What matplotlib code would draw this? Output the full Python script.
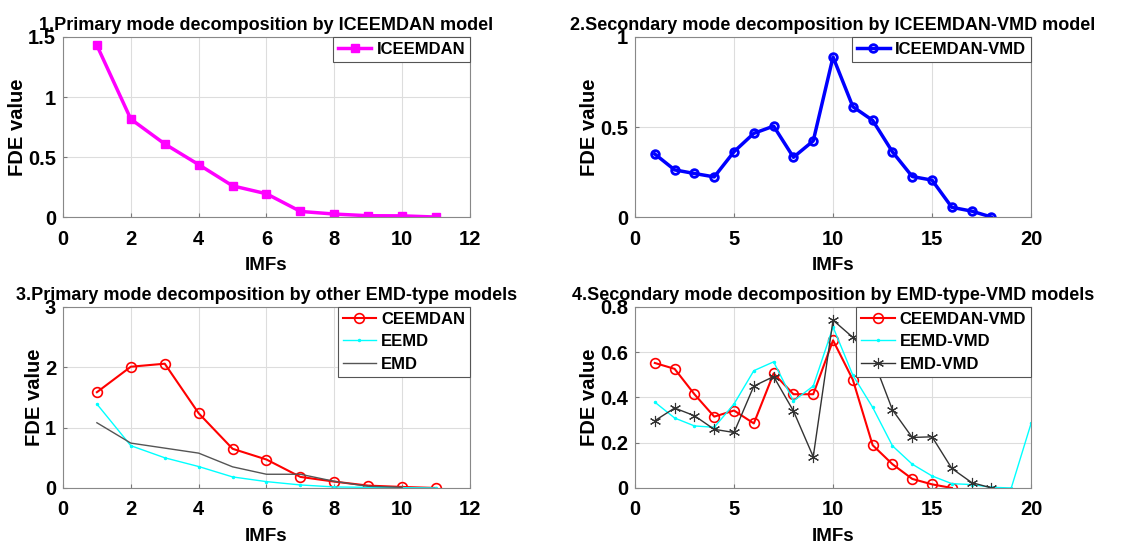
import numpy as np
import matplotlib
matplotlib.use('Agg')
import matplotlib.pyplot as plt
from matplotlib.ticker import FormatStrFormatter

plt.rcParams['font.family'] = ['Liberation Sans', 'DejaVu Sans']
plt.rcParams['font.weight'] = 'bold'

# 1. ICEEMDAN
imf1 = np.arange(1, 12)
iceemdan = [1.43, 0.816, 0.609, 0.437, 0.26, 0.194, 0.047, 0.025, 0.011, 0.01, 0.0]

# 2. ICEEMDAN-VMD
imf2 = np.arange(1, 19)
iceemdan_vmd = [0.35, 0.262, 0.242, 0.223, 0.363, 0.465, 0.505, 0.332, 0.423,
                0.889, 0.613, 0.537, 0.362, 0.225, 0.205, 0.054, 0.033, 0.0]

# 3. other EMD-type models
imf3 = np.arange(1, 12)
ceemdan = [1.586, 2.008, 2.058, 1.237, 0.649, 0.471, 0.183, 0.105, 0.039, 0.017, 0.0]
eemd = [1.39, 0.70, 0.50, 0.355, 0.183, 0.105, 0.05, 0.017, 0.01, 0.005, 0.0]
imf3_emd = np.arange(1, 11)
emd = [1.08, 0.743, 0.66, 0.577, 0.35, 0.227, 0.227, 0.11, 0.028, 0.01]

# 4. EMD-type-VMD models
imf4_c = np.arange(1, 17)
ceemdan_vmd = [0.552, 0.526, 0.414, 0.315, 0.342, 0.285, 0.506, 0.414, 0.414,
               0.652, 0.478, 0.189, 0.105, 0.04, 0.016, 0.0]
imf4_ee = np.arange(1, 21)
eemd_vmd = [0.379, 0.309, 0.274, 0.268, 0.371, 0.518, 0.557, 0.384, 0.45, 0.711,
            0.498, 0.356, 0.186, 0.105, 0.053, 0.019, 0.015, 0.003, 0.0, 0.285]
imf4_e = np.arange(1, 19)
emd_vmd = [0.297, 0.353, 0.319, 0.259, 0.245, 0.45, 0.492, 0.34, 0.138, 0.741,
           0.665, 0.574, 0.345, 0.223, 0.226, 0.086, 0.024, 0.0]

titles = ['1.Primary mode decomposition by ICEEMDAN model',
          '2.Secondary mode decomposition by ICEEMDAN-VMD model',
          '3.Primary mode decomposition by other EMD-type models',
          '4.Secondary mode decomposition by EMD-type-VMD models']

fig = plt.figure(figsize=(11.45, 5.44), dpi=100)
pos = [[0.055, 0.601, 0.3555, 0.331],
       [0.5546, 0.601, 0.3459, 0.331],
       [0.055, 0.103, 0.3555, 0.333],
       [0.5546, 0.103, 0.3459, 0.333]]
axs = [fig.add_axes(p) for p in pos]

ax = axs[0]
ax.plot(imf1, iceemdan, color='magenta', lw=2.5, marker='s', ms=5.5, label='ICEEMDAN')
ax.set_xlim(0, 12); ax.set_ylim(0, 1.5)
ax.set_xticks(range(0, 13, 2)); ax.set_yticks([0, 0.5, 1, 1.5])

ax = axs[1]
ax.plot(imf2, iceemdan_vmd, color='blue', lw=2.5, marker='o', ms=5.5, mfc='none',
        mew=2, label='ICEEMDAN-VMD')
ax.set_xlim(0, 20); ax.set_ylim(0, 1)
ax.set_xticks(range(0, 21, 5)); ax.set_yticks([0, 0.5, 1])

ax = axs[2]
ax.plot(imf3, ceemdan, color='red', lw=1.5, marker='o', ms=7, mfc='none', mew=1.2,
        label='CEEMDAN')
ax.plot(imf3, eemd, color='cyan', lw=1, marker='.', ms=3, label='EEMD')
ax.plot(imf3_emd, emd, color='#555555', lw=1, label='EMD')
ax.set_xlim(0, 12); ax.set_ylim(0, 3)
ax.set_xticks(range(0, 13, 2)); ax.set_yticks([0, 1, 2, 3])

ax = axs[3]
ax.plot(imf4_c, ceemdan_vmd, color='red', lw=1.5, marker='o', ms=7, mfc='none',
        mew=1.2, label='CEEMDAN-VMD')
ax.plot(imf4_ee, eemd_vmd, color='cyan', lw=1, marker='.', ms=3, label='EEMD-VMD')
ax.plot(imf4_e, emd_vmd, color='#333333', lw=1, marker=(6, 2, 0), ms=8,
        mew=0.8, label='EMD-VMD')
ax.set_xlim(0, 20); ax.set_ylim(0, 0.8)
ax.set_xticks(range(0, 21, 5)); ax.set_yticks([0, 0.2, 0.4, 0.6, 0.8])

leg_sizes = [12, 12, 12, 12]
for i, ax in enumerate(axs):
    ax.set_title(titles[i], fontsize=13, fontweight='bold', pad=5)
    ax.set_xlabel('IMFs', fontsize=13.5, fontweight='bold', labelpad=6)
    ax.set_ylabel('FDE value', fontsize=14.5, fontweight='bold', labelpad=0.5)
    ax.grid(True, color='#dddddd', lw=0.8)
    ax.set_axisbelow(True)
    ax.yaxis.set_major_formatter(FormatStrFormatter('%g'))
    ax.tick_params(direction='in', length=3, labelsize=14.5, color='#777777')
    ax.tick_params(axis='x', pad=9)
    ax.tick_params(axis='y', pad=5)
    for lab in ax.get_xticklabels() + ax.get_yticklabels():
        lab.set_fontweight('bold')
    for s in ax.spines.values():
        s.set_color('#888888')
    leg = ax.legend(loc='upper right', prop={'size': leg_sizes[i], 'weight': 'bold'},
                    borderaxespad=0, fancybox=False, edgecolor='#555555',
                    framealpha=1, handlelength=2.0, handletextpad=0.3,
                    borderpad=0.3, labelspacing=0.45)
    leg.get_frame().set_linewidth(0.8)

plt.savefig('out.png', dpi=100)
